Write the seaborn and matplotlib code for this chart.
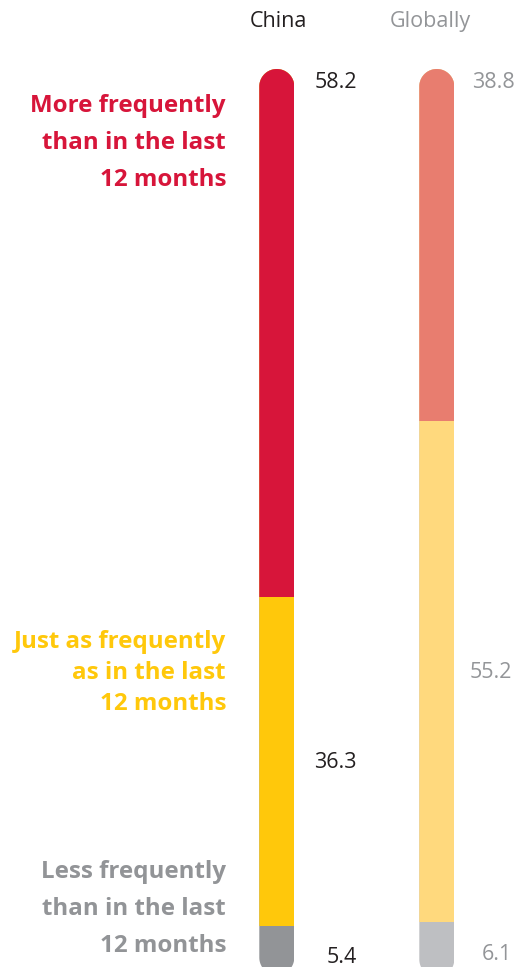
import matplotlib
matplotlib.use("Agg")
import matplotlib.pyplot as plt
from matplotlib.patches import PathPatch
from matplotlib.path import Path
from matplotlib.transforms import IdentityTransform
import numpy as np
import pandas as pd
import seaborn as sns

# --- data -------------------------------------------------------------
regions = ["China", "Globally"]
segments = ["More frequently\nthan in the last\n12 months",
            "Just as frequently\nas in the last\n12 months",
            "Less frequently\nthan in the last\n12 months"]
china_values = [58.2, 36.3, 5.4]
global_values = [38.8, 55.2, 6.1]

china_colors = ["#D7153A", "#FFC80B", "#929497"]
global_colors = ["#E87D6F", "#FFD97D", "#BEBFC2"]
segment_text_colors = ["#D7153A", "#FFC80B", "#929497"]
header_colors = ["#231F20", "#939598"]

W, H = 516, 967
sns.set_theme(style="white")
plt.rcParams["font.family"] = ["Open Sans", "DejaVu Sans"]

fig = plt.figure(figsize=(W / 100, H / 100), dpi=100)
ax = fig.add_axes([0, 0, 1, 1])

# stacked bars: draw cumulative totals, deepest layer first
china_cum = np.cumsum(china_values)
global_cum = np.cumsum(global_values)
bar_width = 35 / 160
for k in range(len(segments) - 1, -1, -1):
    layer = pd.DataFrame({"region": regions,
                          "value": [china_cum[k], global_cum[k]]})
    sns.barplot(data=layer, x="region", y="value", hue="region",
                palette=[china_colors[k], global_colors[k]],
                width=bar_width, saturation=1, linewidth=0,
                legend=False, ax=ax)

ax.set_xlim(-276.8 / 160, (W - 276.8) / 160)
ax.set_ylim((H - 69) / 9.07, -69 / 9.07)
ax.axis("off")


def pill_path(x0, y0, x1, y1):
    """Closed outline of a vertical bar with semicircular ends (pixels)."""
    r = (x1 - x0) / 2
    cx = (x0 + x1) / 2
    t_top = np.linspace(0, np.pi, 60)
    t_bot = np.linspace(np.pi, 2 * np.pi, 60)
    top = np.column_stack([cx + r * np.cos(t_top), y1 - r + r * np.sin(t_top)])
    bot = np.column_stack([cx + r * np.cos(t_bot), y0 + r + r * np.sin(t_bot)])
    verts = np.vstack([top, bot, top[:1]])
    codes = [Path.MOVETO] + [Path.LINETO] * (len(verts) - 2) + [Path.CLOSEPOLY]
    return Path(verts, codes)


# round the ends of each bar by clipping its segments to a pill shape
fig.canvas.draw()
groups = {}
for p in ax.patches:
    ext = p.get_window_extent()
    key = round((ext.x0 + ext.x1) / 2)
    groups.setdefault(key, []).append((p, ext))
for key, items in groups.items():
    x0 = min(e.x0 for _, e in items)
    x1 = max(e.x1 for _, e in items)
    y0 = min(e.y0 for _, e in items)
    y1 = max(e.y1 for _, e in items)
    pill = PathPatch(pill_path(x0, y0, x1, y1), transform=IdentityTransform())
    for p, _ in items:
        p.set_clip_path(pill)


def put(x, y, s, **kw):
    fig.text(x / W, 1 - y / H, s, **kw)


# column headers
put(278.7, 27, regions[0], ha="center", va="baseline", fontsize=15.5,
    color=header_colors[0])
put(430.8, 27, regions[1], ha="center", va="baseline", fontsize=15.5,
    color=header_colors[1])

# value labels
vfs = 15.5
put(357, 88, f"{china_values[0]}", ha="right", va="baseline", fontsize=vfs,
    color=header_colors[0])
put(357, 768, f"{china_values[1]}", ha="right", va="baseline", fontsize=vfs,
    color=header_colors[0])
put(357, 963, f"{china_values[2]}", ha="right", va="baseline", fontsize=vfs,
    color=header_colors[0])
put(472, 88, f"{global_values[0]}", ha="left", va="baseline", fontsize=vfs,
    color=header_colors[1])
put(470, 678, f"{global_values[1]}", ha="left", va="baseline", fontsize=vfs,
    color=header_colors[1])
put(482, 960, f"{global_values[2]}", ha="left", va="baseline", fontsize=vfs,
    color=header_colors[1])

# segment names on the left
baselines = [[112, 149, 186], [648, 679, 710], [878, 915, 952]]
for name, color, ys in zip(segments, segment_text_colors, baselines):
    for line, y in zip(name.split("\n"), ys):
        put(226, y, line, ha="right", va="baseline", fontsize=17.4,
            fontweight="bold", color=color)

fig.savefig("out.png", dpi=100)
